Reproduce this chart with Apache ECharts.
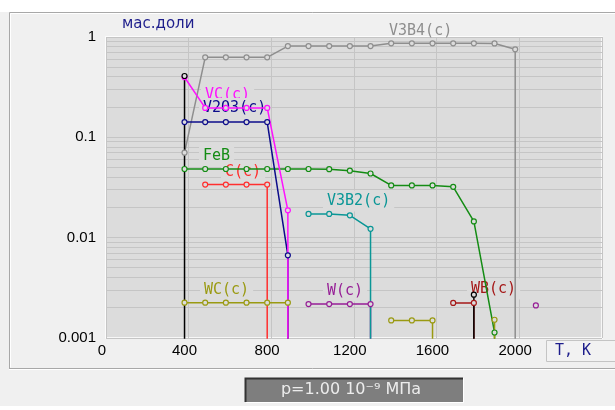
<!DOCTYPE html>
<html>
<head>
<meta charset="utf-8">
<script src="https://cdn.jsdelivr.net/npm/echarts@6/dist/echarts.min.js"></script>
<style>
  html, body { margin: 0; padding: 0; background: #f0f0f0; }
  #chart { width: 615px; height: 410px; }
</style>
</head>
<body>
<div id="chart"></div>
<script>
// Axis tick labels
const xTickLabels = ['0', '400', '800', '1200', '1600', '2000'];
const yTickLabels = ['0.001', '0.01', '0.1', '1'];

// Last temperature of the calculation, K
const T_LAST = 2100;

// Phase mass fractions vs temperature (K); null separates segments
const v3b4Temps = [400, 500, 600, 700, 800, 900, 1000, 1100, 1200, 1300, 1400, 1500, 1600, 1700, 1800, 1900, 2000];
const v3b4Frac  = [0.062, 0.553, 0.553, 0.553, 0.553, 0.716, 0.716, 0.716, 0.716, 0.716, 0.762, 0.762, 0.762, 0.762, 0.762, 0.760, 0.664];

const febTemps = [400, 500, 600, 700, 800, 900, 1000, 1100, 1200, 1300, 1400, 1500, 1600, 1700, 1800, 1900];
const febFrac  = [0.0426, 0.0426, 0.0426, 0.0426, 0.0426, 0.0426, 0.0426, 0.0424, 0.0410, 0.0384, 0.0292, 0.0292, 0.0292, 0.0283, 0.0128, 0.00100];

const cTemps = [500, 600, 700, 800];
const cFrac  = [0.0298, 0.0298, 0.0298, 0.0298];

const wcTemps = [400, 500, 600, 700, 800, 900, null, 1400, 1500, 1600, null, 1900];
const wcFrac  = [0.00198, 0.00198, 0.00198, 0.00198, 0.00198, 0.00198, null, 0.00132, 0.00132, 0.00132, null, 0.00134];

const wTemps = [1000, 1100, 1200, 1300, null, 2100];
const wFrac  = [0.00192, 0.00192, 0.00192, 0.00192, null, 0.00186];

const v3b2Temps = [1000, 1100, 1200, 1300];
const v3b2Frac  = [0.0152, 0.0152, 0.0147, 0.0108];

const wbTemps = [1700, 1800];
const wbFrac  = [0.00197, 0.00197];

const v2o3Temps = [400, 500, 600, 700, 800, 900];
const v2o3Frac  = [0.125, 0.125, 0.125, 0.125, 0.125, 0.00587];

const vcTemps = [400, 500, 600, 700, 800, 900];
const vcFrac  = [0.350, 0.173, 0.173, 0.173, 0.173, 0.0165];

const blackTemps = [400, null, 1800];
const blackFrac  = [0.360, null, 0.00238];

// Colours
const PLOT_BG = '#dcdcdc';
const GRID_COLOR = '#c5c5c5';
const NAVY_TEXT = '#1e1e8c';
const COLORS = {
  v3b4: '#8e8e8e', feb: '#148c14', c: '#ff2e2e', wc: '#9a9a12', w: '#961e96',
  v3b2: '#0a9696', wb: '#a51818', v2o3: '#0c0c8a', vc: '#ff10ff', black: '#000000'
};

// Data are drawn on axes shifted against the grid, as the plotting program does
const X_SHIFT = 20;        // K
const Y_SHIFT = 0.055;     // decades
const FLOOR = 1e-5;        // a vanished phase drops to the bottom of the plot

function phaseData(temps, fracs) {
  const pts = [];
  for (let i = 0; i < temps.length; i++) {
    const t = temps[i];
    if (t === null) continue;
    pts.push({ value: [t, fracs[i]] });
    const ends = i === temps.length - 1 || temps[i + 1] === null;
    if (ends) {
      if (t < T_LAST) pts.push({ value: [t, FLOOR], symbol: 'none' });
      pts.push({ value: [t, '-'], symbol: 'none' });
    }
  }
  return pts;
}

function phaseSeries(name, temps, fracs, color) {
  return {
    name, type: 'line', xAxisIndex: 1, yAxisIndex: 1, z: 3,
    data: phaseData(temps, fracs),
    connectNulls: false, clip: true, animation: false,
    symbol: 'circle', symbolSize: 5, showSymbol: true,
    lineStyle: { color, width: 1.5 },
    itemStyle: { color: PLOT_BG, borderColor: color, borderWidth: 1.2 },
    emphasis: { disabled: true }
  };
}

// Minor horizontal grid levels 2..9 in each decade
const minorLevels = [];
[0.001, 0.01, 0.1].forEach(d => { for (let k = 2; k <= 9; k++) minorLevels.push(Number((d * k).toPrecision(3))); });

const LABEL_FONT = '15px "DejaVu Sans Mono"';
function phaseLabel(text, color, left, cy, boxed) {
  return {
    type: 'text', x: left - (boxed ? 4 : 0), y: cy, z: 2,
    style: {
      text, fill: color, font: LABEL_FONT, verticalAlign: 'middle',
      backgroundColor: boxed ? PLOT_BG : null, padding: boxed ? [3, 4] : 0
    }
  };
}

const chart = echarts.init(document.getElementById('chart'));
chart.setOption({
  animation: false,
  backgroundColor: '#f0f0f0',
  grid: {
    left: 106, right: 13, top: 37, bottom: 72,
    show: true, backgroundColor: PLOT_BG, borderColor: '#ffffff', borderWidth: 1.5
  },
  xAxis: [
    {
      type: 'value', min: 0, max: 2400, interval: 400, position: 'bottom',
      axisLine: { show: false }, axisTick: { show: false },
      splitLine: { show: true, lineStyle: { color: GRID_COLOR, width: 1 } },
      axisLabel: {
        margin: 5, fontFamily: 'Liberation Sans', fontSize: 15, color: '#000',
        padding: [0, 8.4, 0, 0], showMinLabel: true, showMaxLabel: false,
        formatter: v => (xTickLabels.includes(String(v)) ? String(v) : '')
      }
    },
    { type: 'value', min: X_SHIFT, max: 2400 + X_SHIFT, show: false }
  ],
  yAxis: [
    {
      type: 'log', logBase: 10, min: 0.001, max: 1,
      axisLine: { show: false }, axisTick: { show: false },
      splitLine: { show: true, lineStyle: { color: GRID_COLOR, width: 1 } },
      axisLabel: {
        margin: 10, fontFamily: 'Liberation Sans', fontSize: 15, color: '#000',
        padding: [0, 0, 11, 0],
        formatter: v => yTickLabels.find(l => Math.abs(Number(l) / v - 1) < 1e-6) || ''
      }
    },
    { type: 'log', logBase: 10, min: 0.001 * Math.pow(10, -Y_SHIFT), max: Math.pow(10, -Y_SHIFT), show: false }
  ],
  series: [
    {
      type: 'custom', coordinateSystem: 'cartesian2d', xAxisIndex: 0, yAxisIndex: 0,
      z: 1, silent: true, animation: false,
      data: minorLevels.map(v => [0, v]),
      renderItem(params, api) {
        const cs = params.coordSys;
        const y = Math.round(api.coord([0, api.value(1)])[1] - 0.5) + 0.5;
        return {
          type: 'line',
          shape: { x1: cs.x, y1: y, x2: cs.x + cs.width, y2: y },
          style: { stroke: GRID_COLOR, lineWidth: 1 }
        };
      }
    },
    phaseSeries('V3B4(c)', v3b4Temps, v3b4Frac, COLORS.v3b4),
    phaseSeries('FeB', febTemps, febFrac, COLORS.feb),
    phaseSeries('C(c)', cTemps, cFrac, COLORS.c),
    phaseSeries('WC(c)', wcTemps, wcFrac, COLORS.wc),
    phaseSeries('W(c)', wTemps, wFrac, COLORS.w),
    phaseSeries('V3B2(c)', v3b2Temps, v3b2Frac, COLORS.v3b2),
    phaseSeries('WB(c)', wbTemps, wbFrac, COLORS.wb),
    phaseSeries('V2O3(c)', v2o3Temps, v2o3Frac, COLORS.v2o3),
    phaseSeries('VC(c)', vcTemps, vcFrac, COLORS.vc),
    phaseSeries('phase', blackTemps, blackFrac, COLORS.black)
  ],
  graphic: [
    // white strips above and below the panel
    { type: 'rect', shape: { x: 0, y: 0, width: 615, height: 12 }, style: { fill: '#ffffff' }, z: 0 },
    { type: 'rect', shape: { x: 0, y: 406, width: 615, height: 4 }, style: { fill: '#ffffff' }, z: 0 },
    // etched panel frame
    { type: 'polyline', shape: { points: [[9.5, 368.5], [9.5, 12.5], [620, 12.5]] }, style: { stroke: '#a8a8a8', lineWidth: 1, fill: null }, z: 0 },
    { type: 'polyline', shape: { points: [[10.5, 367.5], [10.5, 13.5], [620, 13.5]] }, style: { stroke: '#ffffff', lineWidth: 1, fill: null }, z: 0 },
    { type: 'line', shape: { x1: 9, y1: 368.5, x2: 620, y2: 368.5 }, style: { stroke: '#a8a8a8', lineWidth: 1 }, z: 0 },
    { type: 'line', shape: { x1: 9, y1: 369.5, x2: 620, y2: 369.5 }, style: { stroke: '#ffffff', lineWidth: 1 }, z: 0 },
    // units of the vertical axis
    { type: 'text', x: 122, y: 24.5, z: 2, style: { text: 'мас.доли', fill: NAVY_TEXT, font: '15px "DejaVu Sans"', verticalAlign: 'middle' } },
    // temperature unit box
    { type: 'rect', shape: { x: 546.5, y: 340.5, width: 80, height: 21 }, style: { fill: '#f2f2f2', stroke: '#c4c4c4', lineWidth: 1 }, z: 2 },
    { type: 'text', x: 555, y: 351.5, z: 2, style: { text: 'T, K', fill: NAVY_TEXT, font: LABEL_FONT, verticalAlign: 'middle' } },
    // pressure box
    { type: 'rect', shape: { x: 245, y: 378, width: 218, height: 24 }, style: { fill: '#7e7e7e' }, z: 2 },
    { type: 'polyline', shape: { points: [[245.5, 402], [245.5, 378.5], [463, 378.5]] }, style: { stroke: '#333333', lineWidth: 2, fill: null }, z: 2 },
    { type: 'polyline', shape: { points: [[246, 402.5], [463.5, 402.5], [463.5, 378]] }, style: { stroke: '#ffffff', lineWidth: 1, fill: null }, z: 2 },
    { type: 'text', x: 351, y: 390, z: 3, style: { text: 'p=1.00 10⁻⁹ МПа', fill: '#ececec', font: '16px "DejaVu Sans"', align: 'center', verticalAlign: 'middle' } },
    // phase names
    phaseLabel('V3B4(c)', COLORS.v3b4, 389, 31.5, false),
    phaseLabel('VC(c)', COLORS.vc, 205, 95, true),
    phaseLabel('V2O3(c)', COLORS.v2o3, 203, 108.5, true),
    phaseLabel('FeB', COLORS.feb, 203, 156, true),
    phaseLabel('C(c)', COLORS.c, 225, 172.5, true),
    phaseLabel('V3B2(c)', COLORS.v3b2, 327, 201, true),
    phaseLabel('WC(c)', COLORS.wc, 204, 290, true),
    phaseLabel('W(c)', COLORS.w, 327, 291, true),
    phaseLabel('WB(c)', COLORS.wb, 471, 289, true)
  ]
});
</script>
</body>
</html>
